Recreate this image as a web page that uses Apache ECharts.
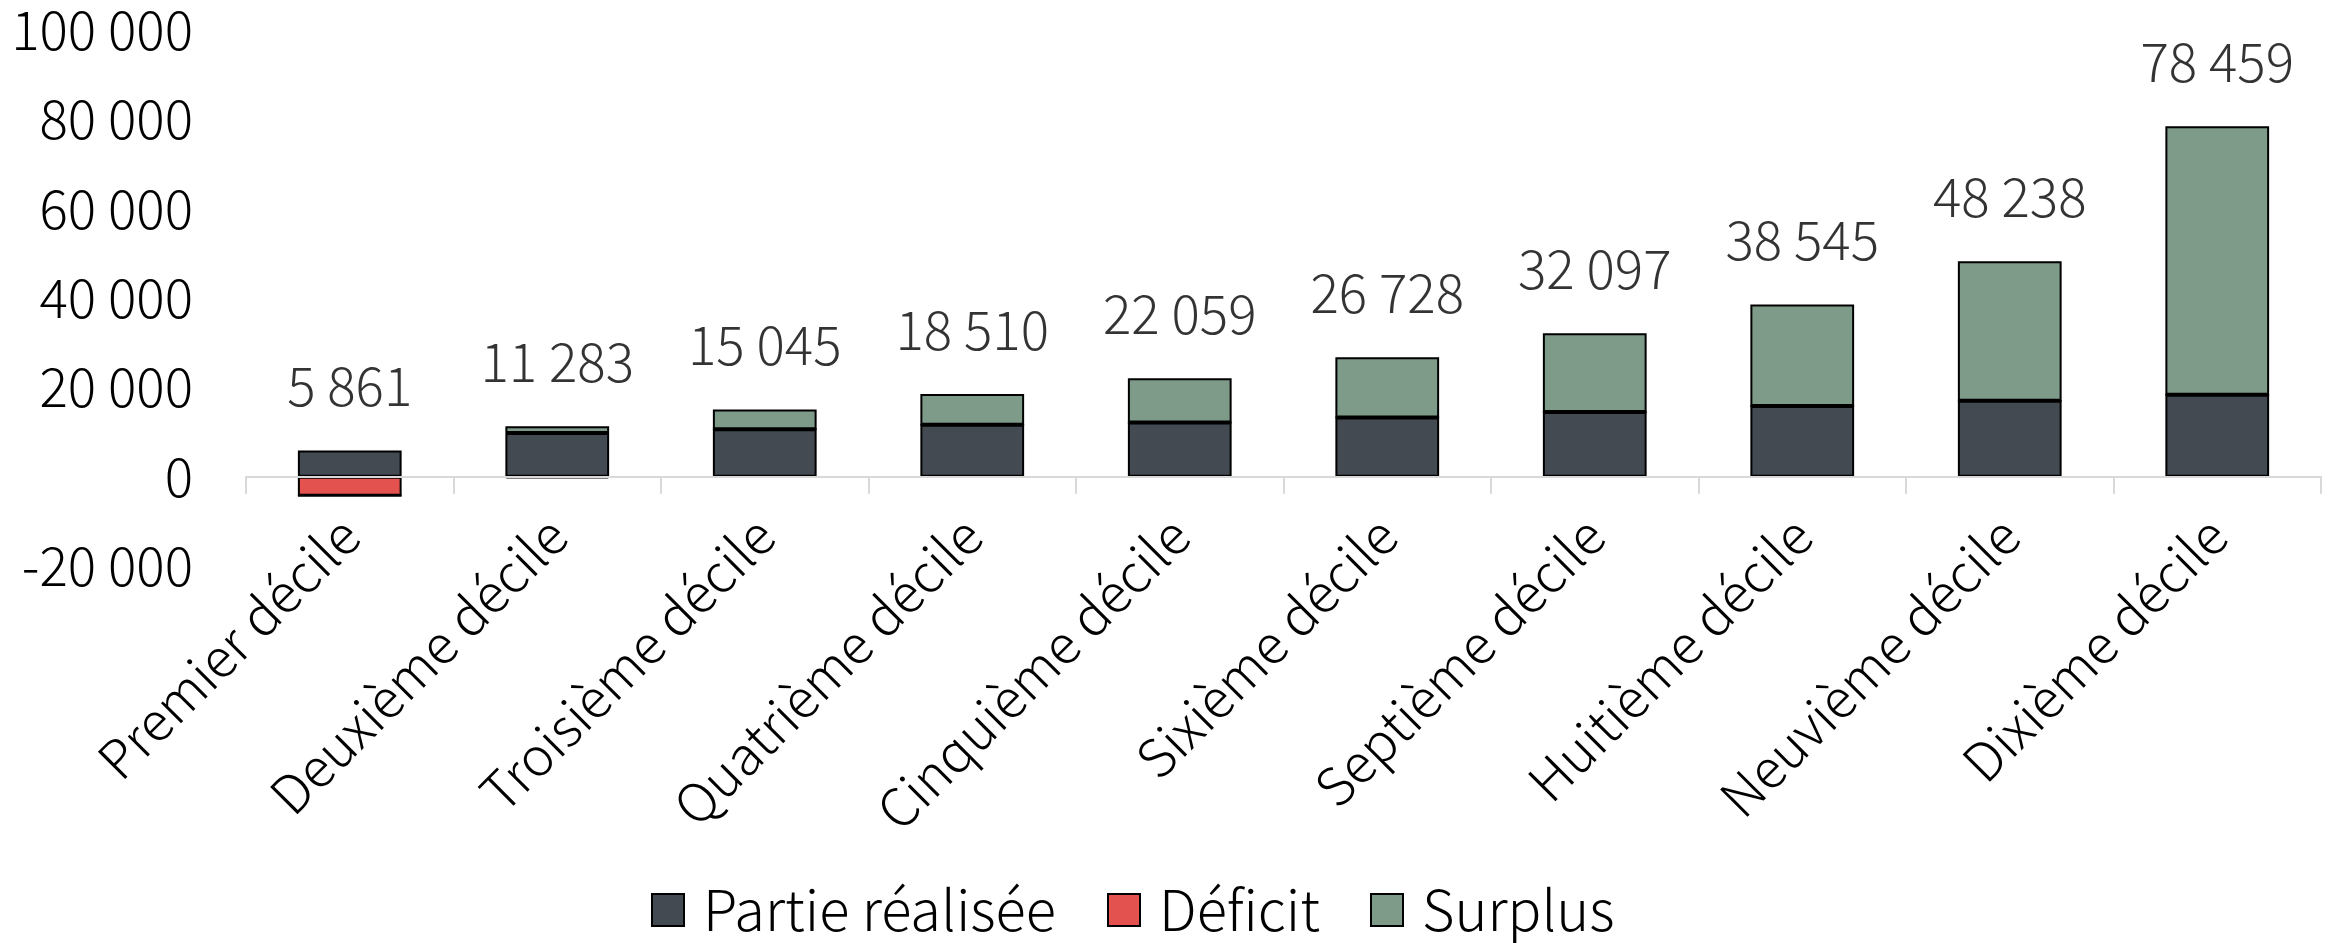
<!DOCTYPE html>
<html>
<head>
<meta charset="utf-8">
<script src="https://cdn.jsdelivr.net/npm/echarts@6/dist/echarts.min.js"></script>
<style>
  html, body { margin: 0; padding: 0; background: #fff; }
  #chart { width: 2330px; height: 943px; }
</style>
</head>
<body>
<div id="chart"></div>
<script>
// categories (deciles)
const deciles = [
  "Premier décile", "Deuxième décile", "Troisième décile", "Quatrième décile",
  "Cinquième décile", "Sixième décile", "Septième décile", "Huitième décile",
  "Neuvième décile", "Dixième décile"
];
// values
const partieRealisee = [5861, 9790, 10630, 11600, 12120, 13250, 14470, 15840, 17010, 18330];
const deficit = [-4280, -370, 0, 0, 0, 0, 0, 0, 0, 0];
const surplus = [0, 1493, 4415, 6910, 9939, 13478, 17627, 22705, 31228, 60129];
const totals = [5861, 11283, 15045, 18510, 22059, 26728, 32097, 38545, 48238, 78459];
const yTicks = { min: -20000, max: 100000, interval: 20000 };

const FONT = "Noto Sans CJK JP";
const FS = 53;

function fmt(v) {
  return String(v).replace(/\B(?=(\d{3})+(?!\d))/g, " ");
}

const myChart = echarts.init(document.getElementById("chart"));

const barStyle = (color) => ({
  color: color,
  borderColor: "#000",
  borderWidth: 2
});

// one legend block per item so each sits where the original puts it
const legendItem = (name, left) => ({
  top: 877,
  left: left,
  icon: "rect",
  itemWidth: 32,
  itemHeight: 32,
  textStyle: { fontSize: 56, color: "#000", fontFamily: FONT, fontWeight: 300, padding: [0, 0, 0, 14] },
  data: [name]
});

const option = {
  animation: false,
  textStyle: { fontFamily: FONT },
  grid: { left: 246, right: 9, top: 30, bottom: 377 },
  legend: [
    legendItem("Partie réalisée", 646),
    legendItem("Déficit", 1102),
    legendItem("Surplus", 1365)
  ],
  xAxis: {
    type: "category",
    data: deciles,
    z: 10,
    axisLine: { lineStyle: { color: "#d9d9d9", width: 2 } },
    axisTick: { show: true, length: 17, lineStyle: { color: "#d9d9d9", width: 2 } },
    axisLabel: {
      rotate: 45,
      margin: -40,
      fontSize: FS,
      fontWeight: 300,
      color: "#000",
      fontFamily: FONT,
      interval: 0
    }
  },
  yAxis: {
    type: "value",
    min: yTicks.min,
    max: yTicks.max,
    interval: yTicks.interval,
    splitLine: { show: false },
    axisLine: { show: false },
    axisTick: { show: false },
    axisLabel: {
      margin: 53,
      fontSize: FS,
      fontWeight: 300,
      color: "#000",
      fontFamily: FONT,
      formatter: (v) => fmt(v)
    }
  },
  series: [
    {
      name: "Partie réalisée",
      type: "bar",
      stack: "total",
      barWidth: "50%",
      itemStyle: barStyle("#434a52"),
      data: partieRealisee
    },
    {
      name: "Déficit",
      type: "bar",
      stack: "total",
      itemStyle: barStyle("#e3524f"),
      data: deficit
    },
    {
      name: "Surplus",
      type: "bar",
      stack: "total",
      itemStyle: barStyle("#7e9a88"),
      data: surplus
    },
    {
      name: "Total",
      type: "scatter",
      symbolSize: 0,
      silent: true,
      label: {
        show: true,
        position: "top",
        distance: 38,
        fontSize: FS,
        fontWeight: 300,
        color: "#000",
        fontFamily: FONT,
        formatter: (p) => fmt(p.value)
      },
      data: totals
    }
  ]
};

myChart.setOption(option);
</script>
</body>
</html>
